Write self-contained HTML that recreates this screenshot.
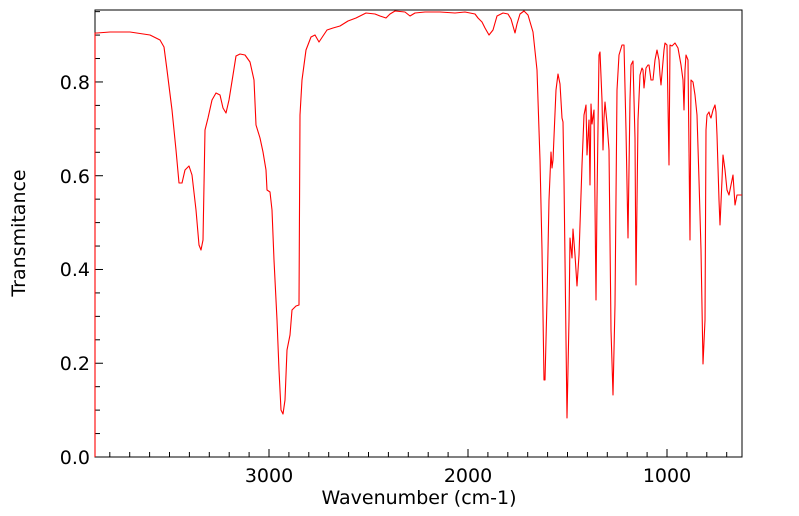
<!DOCTYPE html>
<html><head><style>body{margin:0;background:#fff}svg{display:block}text{font-family:"DejaVu Sans","Liberation Sans",sans-serif;fill:#000}</style></head>
<body>
<svg width="799" height="516" viewBox="0 0 799 516" xmlns="http://www.w3.org/2000/svg">
<rect x="95" y="10" width="647" height="447" fill="none" stroke="#000" stroke-width="1"/>
<g stroke="#000" stroke-width="1" id="ticks"></g>
<g font-size="19" text-anchor="end">
<text x="90" y="464">0.0</text><text x="90" y="370">0.2</text><text x="90" y="276">0.4</text><text x="90" y="183">0.6</text><text x="90" y="89">0.8</text>
</g>
<g font-size="19" text-anchor="middle">
<text x="269" y="482">3000</text><text x="468" y="482">2000</text><text x="667" y="482">1000</text>
<text x="419" y="504">Wavenumber (cm-1)</text>
<text transform="translate(25,233) rotate(-90)">Transmitance</text>
</g>
<polyline fill="none" stroke="#ff0000" stroke-width="1.1" stroke-linejoin="round" points="95,457 95,33 97,33 110,32 130,32 150,35 160,40 164,47 167,70 172,110 176,150 179,183 182,183 185,170 189,166 192,175 196,210 199,245 201,250 203,240 205,130 208,118 212,100 216,93 220,95 223,108 226,113 229,100 233,75 236,56 240,54 245,55 250,62 254,80 256,125 260,138 263,152 266,170 267,190 270,192 272,210 274,260 277,320 279,370 281,410 283,414 285,400 287,350 290,335 292,310 296,306 299,305 300,115 302,80 306,50 311,37 315,35 319,42 323,36 327,30 333,28 340,26 348,21 356,18 366,13 375,14 380,16 386,18 390,14 395,11 405,12 410,16 415,13 425,12 440,12 455,13 465,12 475,14 478,18 482,22 485,28 489,35 493,30 497,16 503,13 508,14 511,19 515,33 517,24 520,14 524,11 528,15 533,32 537,70 540,160 542,250 544,380 545,380 547,300 549,200 551,152 552,168 553,160 556,90 558,74 560,84 562,118 563,122 564,180 566,340 567,418 569,320 570,238 572,258 573,229 575,255 577,286 579,255 582,165 584,115 586,105 587,155 589,120 590,185 591,104 592,124 594,110 596,300 597,200 599,55 600,52 602,100 603,150 604,118 605,102 607,123 609,150 611,330 613,395 615,305 617,90 619,55 622,45 624,45 626,130 628,238 630,100 631,65 633,61 635,138 636,285 638,120 640,75 642,68 643,70 644,88 646,68 648,65 649,65 651,80 653,80 655,60 657,50 659,60 660,75 661,85 664,50 665,43 667,45 669,165 670,45 672,46 675,43 678,48 681,65 683,80 684,110 685,70 686,55 688,60 690,240 691,80 693,82 695,95 697,115 699,180 701,250 703,364 705,320 706,130 707,115 709,112 710,116 711,118 713,110 715,105 716,112 717,135 719,200 720,225 722,180 723,155 725,170 727,190 729,195 731,185 733,175 735,205 737,195 739,195 742,195"/>
</svg>
<script>
var g=document.getElementById('ticks'),s='';
for(var w=3800;w>=700;w-=100){var x=269+(3000-w)*0.199;if(x<95||x>742)continue;var L=(w%1000==0)?8:5;s+='<line x1="'+x+'" y1="457" x2="'+x+'" y2="'+(457-L)+'"/>';}
for(var i=0;i<=19;i++){var y=457-i*23.44;if(y<10)continue;var L=(i%4==0)?8:5;s+='<line x1="95" y1="'+y+'" x2="'+(95+L)+'" y2="'+y+'"/>';}
g.innerHTML=s;
</script>
</body></html>
